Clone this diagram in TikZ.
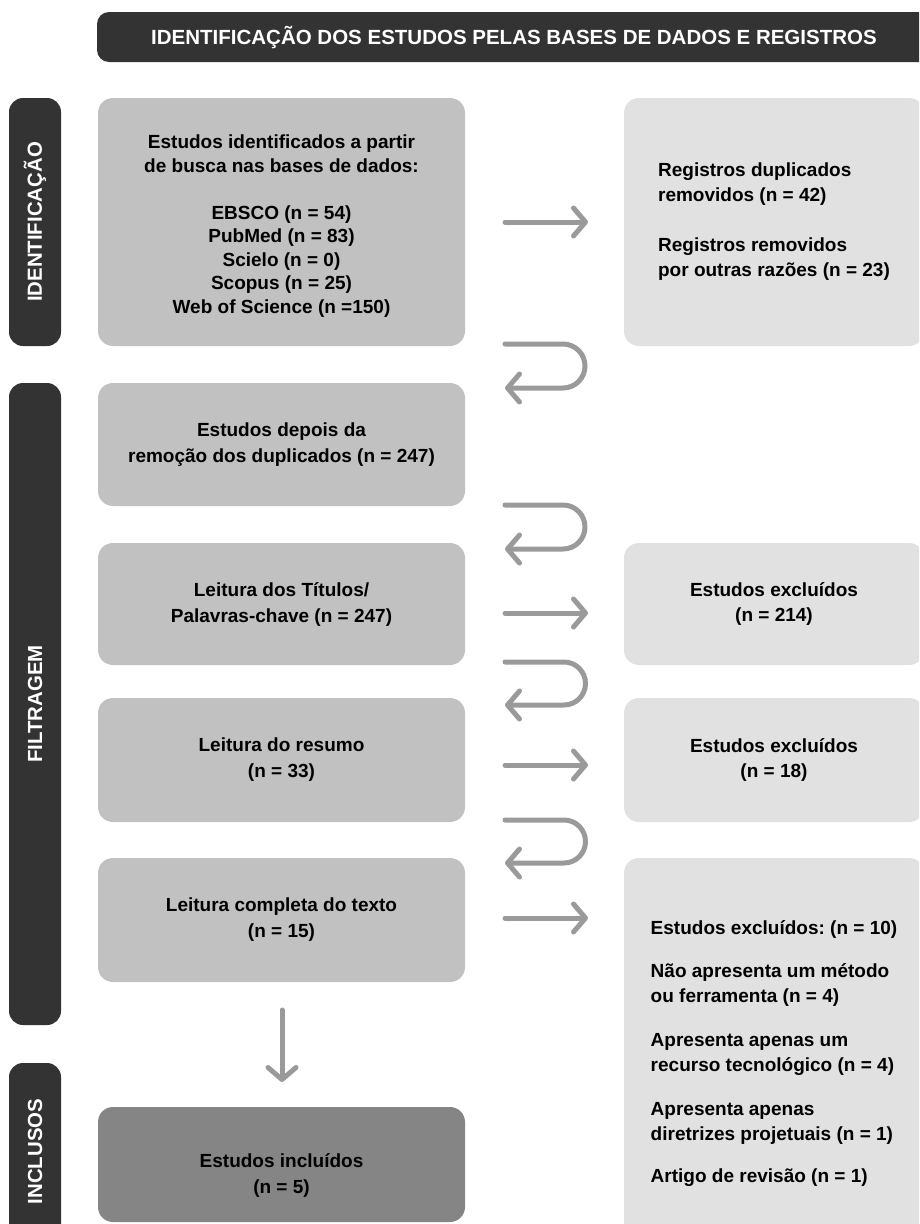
\documentclass[tikz,border=0pt]{standalone}
\usepackage{fontspec}
\setmainfont{Liberation Sans}
\usetikzlibrary{arrows.meta}
\frenchspacing
\definecolor{darkc}{HTML}{333333}
\definecolor{lboxc}{HTML}{C1C1C1}
\definecolor{rboxc}{HTML}{E1E1E1}
\definecolor{iboxc}{HTML}{858585}
\definecolor{arrc}{HTML}{9A9A9A}
\tikzset{
  hdr/.style={fill=darkc, rounded corners=12pt, text=white, inner sep=0pt,
    font=\bfseries\fontsize{20.5}{24}\selectfont},
  sidebar/.style={fill=darkc, rounded corners=14pt, text=white, inner sep=0pt,
    rotate=90, minimum height=52pt, font=\bfseries\fontsize{20.4}{24}\selectfont},
  lboxs/.style={fill=lboxc, rounded corners=15pt, inner sep=0pt, align=center,
    minimum width=367pt, font=\bfseries\fontsize{19}{26}\selectfont},
  rboxs/.style={fill=rboxc, rounded corners=15pt, inner sep=0pt,
    minimum width=300pt, font=\bfseries\fontsize{19}{25}\selectfont},
  txt/.style={inner sep=0pt, align=center, font=\bfseries\fontsize{19}{26}\selectfont},
  arr/.style={draw=arrc, line width=5pt, line cap=round, line join=round,
    -{Straight Barb[length=12pt, width=28pt, round]}},
}
\begin{document}
\begin{tikzpicture}[x=1pt,y=-1pt]
\useasboundingbox (0,0) rectangle (919,1224);
\clip (0,0) rectangle (919,1224);

% header
\node[hdr, minimum width=834pt, minimum height=50pt] (hd) at (514,37)
  {IDENTIFICAÇÃO DOS ESTUDOS PELAS BASES DE DADOS E REGISTROS};

% side bars
\node[sidebar, minimum width=248pt] (sI) at (35,222) {IDENTIFICAÇÃO};
\node[sidebar, minimum width=642pt] (sF) at (35,704) {FILTRAGEM};
\node[sidebar, minimum width=177pt] (sN) at (35,1151.5) {INCLUSOS};

% left column
\node[lboxs, minimum height=248pt] (b1) at (281.5,222) {};
\node[txt, font=\bfseries\fontsize{19}{23.5}\selectfont] (b1t) at (281.5,226)
  {Estudos identificados a partir\\de busca nas bases de dados:\\[23.5pt]EBSCO (n = 54)\\PubMed (n = 83)\\Scielo (n = 0)\\Scopus (n = 25)\\Web of Science (n =150)};
\node[lboxs, minimum height=123pt] (b2) at (281.5,444.5)
  {Estudos depois da\\remoção dos duplicados (n = 247)};
\node[lboxs, minimum height=122pt] (b3) at (281.5,604)
  {Leitura dos Títulos/\\Palavras-chave (n = 247)};
\node[lboxs, minimum height=124pt] (b4) at (281.5,760)
  {Leitura do resumo\\(n = 33)};
\node[lboxs, minimum height=124pt] (b5) at (281.5,920)
  {Leitura completa do texto\\(n = 15)};
\node[lboxs, fill=iboxc, minimum height=115pt] (b6) at (281.5,1164.5) {};
\node[txt] (b6t) at (281.5,1175) {Estudos incluídos\\(n = 5)};

% right column
\node[rboxs, minimum height=248pt, align=left] (r1) at (774,222)
  {Registros duplicados\\removidos (n = 42)\\[25pt]Registros removidos\\por outras razões (n = 23)};
\node[rboxs, minimum height=122pt, align=center] (r2) at (774,604)
  {Estudos excluídos\\(n = 214)};
\node[rboxs, minimum height=124pt, align=center] (r3) at (774,760)
  {Estudos excluídos\\(n = 18)};
\node[rboxs, minimum height=392pt, align=left] (r4) at (774,1054)
  {Estudos excluídos: (n = 10)\\[18pt]Não apresenta um método\\ou ferramenta (n = 4)\\[19pt]Apresenta apenas um\\recurso tecnológico (n = 4)\\[19pt]Apresenta apenas\\diretrizes projetuais (n = 1)\\[17pt]Artigo de revisão (n = 1)};

% straight arrows
\coordinate (a1s) at (505,222); \coordinate (a1e) at (588,222);
\coordinate (a2s) at (505,613); \coordinate (a2e) at (588,613);
\coordinate (a3s) at (505,765); \coordinate (a3e) at (588,765);
\coordinate (a4s) at (505,918); \coordinate (a4e) at (588,918);
\draw[arr] (a1s) -- (a1e);
\draw[arr] (a2s) -- (a2e);
\draw[arr] (a3s) -- (a3e);
\draw[arr] (a4s) -- (a4e);

% U-turn arrows
\coordinate (u1s) at (505,344); \coordinate (u1e) at (505,388);
\coordinate (u2s) at (505,505); \coordinate (u2e) at (505,549);
\coordinate (u3s) at (505,662); \coordinate (u3e) at (505,705);
\coordinate (u4s) at (505,820); \coordinate (u4e) at (505,863);
\draw[arr] (u1s) -- ++(58,0) arc[start angle=-90, end angle=90, radius=22] -- (u1e);
\draw[arr] (u2s) -- ++(58,0) arc[start angle=-90, end angle=90, radius=22] -- (u2e);
\draw[arr] (u3s) -- ++(59,0) arc[start angle=-90, end angle=90, radius=21.5] -- (u3e);
\draw[arr] (u4s) -- ++(59,0) arc[start angle=-90, end angle=90, radius=21.5] -- (u4e);

% down arrow
\coordinate (ds) at (282,1010); \coordinate (de) at (282,1082);
\draw[arr] (ds) -- (de);
\end{tikzpicture}
\end{document}
